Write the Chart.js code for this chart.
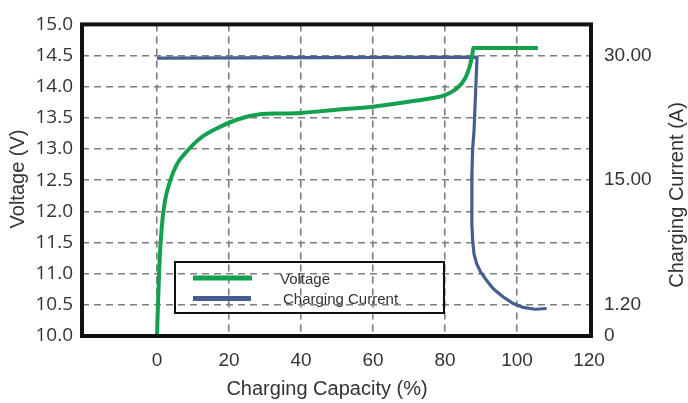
<!DOCTYPE html>
<html>
<head>
<meta charset="utf-8">
<script src="https://cdn.jsdelivr.net/npm/chart.js@4.4.1/dist/chart.umd.min.js"></script>
<style>
html, body { margin: 0; padding: 0; background: #ffffff; }
#wrap { width: 688px; height: 403px; }
</style>
</head>
<body>
<div id="wrap"><canvas id="c" width="688" height="403"></canvas></div>
<script>
// ---------- data ----------
const seriesNames = ['Voltage', 'Charging Current'];

// Voltage curve: charging capacity (%) and voltage (V)
const capacityVoltage = [0, 0.64, 1.31, 2.22, 3.61, 5.47, 8.25, 11.94, 16.58, 22.14, 28.6, 34.2, 39.7, 49.9, 60, 70, 75.83, 80, 83.25, 85.56, 86.94, 87.69, 87.86, 105.8];
const voltageValues   = [10.0, 11.10, 11.74, 12.17, 12.48, 12.75, 12.96, 13.17, 13.33, 13.47, 13.56, 13.57, 13.58, 13.63, 13.68, 13.76, 13.81, 13.865, 13.97, 14.13, 14.34, 14.55, 14.62, 14.62];

// Charging current curve: charging capacity (%) and current (A)
const capacityCurrent = [0, 88.9, 88.06, 87.69, 87.5, 87.42, 87.5, 87.69, 88.06, 88.81, 89.92, 91.58, 93.42, 96.19, 98.97, 101.75, 105.0, 108.25];
const currentValues   = [29.7, 29.8, 20.85, 18.86, 16.07, 13.05, 10.14, 8.30, 6.84, 5.74, 4.82, 3.90, 2.99, 2.07, 1.34, 1.10, 1.03, 1.06];

// Axis ticks
const xTickValues = [0, 20, 40, 60, 80, 100, 120];
const voltageTickValues = [10.0, 10.5, 11.0, 11.5, 12.0, 12.5, 13.0, 13.5, 14.0, 14.5, 15.0];
const currentTickValues = [0, 1.2, 15, 30];
const currentTickLabels = ['0', '1.20', '15.00', '30.00'];
// The right axis of the reference is not linear: each current tick sits level with this voltage
const currentTickVoltage = [10.0, 10.5, 12.5, 14.5];

const xTitle = 'Charging Capacity (%)';
const yTitle = 'Voltage (V)';
const y2Title = 'Charging Current (A)';

// ---------- styles ----------
const GREEN = '#14a04f';
const BLUE = '#455d8f';
const GRID = '#7d7d7d';
const TEXT = '#333333';
const SANS = '"Liberation Sans", Arial, sans-serif';
const VMIN = 10, VMAX = 15;

// Piecewise scale for the current axis
class CurrentScale extends Chart.LinearScale {
  _toVolt(a) {
    const ks = currentTickValues, vs = currentTickVoltage;
    let i = 1;
    while (i < ks.length - 1 && a > ks[i]) i++;
    return vs[i - 1] + (a - ks[i - 1]) * (vs[i] - vs[i - 1]) / (ks[i] - ks[i - 1]);
  }
  _fromVolt(v) {
    const ks = currentTickValues, vs = currentTickVoltage;
    let i = 1;
    while (i < vs.length - 1 && v > vs[i]) i++;
    return ks[i - 1] + (v - vs[i - 1]) * (ks[i] - ks[i - 1]) / (vs[i] - vs[i - 1]);
  }
  getPixelForValue(a) {
    if (a === null || a === undefined || isNaN(a)) return NaN;
    return this.getPixelForDecimal((this._toVolt(a) - VMIN) / (VMAX - VMIN));
  }
  getValueForPixel(p) {
    const d = this.getDecimalForPixel(p);
    return this._fromVolt(VMIN + d * (VMAX - VMIN));
  }
  buildTicks() {
    this.start = this.min; this.end = this.max;
    return currentTickValues.map(v => ({ value: v }));
  }
}
CurrentScale.id = 'currentScale';
CurrentScale.defaults = Chart.LinearScale.defaults;
Chart.register(CurrentScale);

const decorPlugin = {
  id: 'decor',
  afterDraw(chart) {
    const ctx = chart.ctx;
    const a = chart.chartArea;
    ctx.save();
    // frame
    ctx.strokeStyle = '#111111';
    ctx.lineWidth = 4;
    ctx.strokeRect(a.left, a.top, a.right - a.left, a.bottom - a.top);

    // titles
    ctx.fillStyle = TEXT;
    ctx.font = '20px ' + SANS;
    ctx.textAlign = 'center';
    ctx.textBaseline = 'middle';
    ctx.fillText(xTitle, 327, 389);
    ctx.save();
    ctx.translate(18, 179);
    ctx.rotate(-Math.PI / 2);
    ctx.fillText(yTitle, 0, 0);
    ctx.restore();
    ctx.save();
    ctx.translate(677, 195);
    ctx.rotate(-Math.PI / 2);
    ctx.fillText(y2Title, 0, 0);
    ctx.restore();

    // legend
    const ds = chart.data.datasets;
    ctx.strokeStyle = '#111111';
    ctx.lineWidth = 2;
    ctx.strokeRect(175, 262, 269, 51);
    ctx.lineWidth = 5;
    ctx.lineCap = 'butt';
    ctx.strokeStyle = ds[0].borderColor;
    ctx.beginPath(); ctx.moveTo(193, 278); ctx.lineTo(252, 278); ctx.stroke();
    ctx.strokeStyle = ds[1].borderColor;
    ctx.beginPath(); ctx.moveTo(193, 298.5); ctx.lineTo(251, 298.5); ctx.stroke();
    ctx.font = '15px ' + SANS;
    ctx.textAlign = 'left';
    ctx.textBaseline = 'alphabetic';
    ctx.fillStyle = TEXT;
    ctx.fillText(ds[0].label, 280, 283.5);
    ctx.fillText(ds[1].label, 283, 303.5);
    ctx.restore();
  }
};

new Chart(document.getElementById('c'), {
  type: 'line',
  data: {
    datasets: [
      {
        label: seriesNames[0],
        data: capacityVoltage.map((x, i) => ({ x: x, y: voltageValues[i] })),
        yAxisID: 'y',
        borderColor: GREEN,
        borderWidth: 4,
        pointRadius: 0,
        cubicInterpolationMode: 'monotone',
        fill: false
      },
      {
        label: seriesNames[1],
        data: capacityCurrent.map((x, i) => ({ x: x, y: currentValues[i] })),
        yAxisID: 'y2',
        borderColor: BLUE,
        borderWidth: 3.2,
        pointRadius: 0,
        tension: 0,
        borderJoinStyle: 'round',
        fill: false
      }
    ]
  },
  options: {
    responsive: false,
    animation: false,
    devicePixelRatio: 1,
    layout: { padding: { top: 22, left: 0, right: 0, bottom: 0 } },
    plugins: { legend: { display: false }, tooltip: { enabled: false } },
    scales: {
      x: {
        type: 'linear',
        position: 'bottom',
        min: -20.83,
        max: 120.56,
        afterBuildTicks: s => { s.ticks = xTickValues.map(v => ({ value: v })); },
        afterFit: s => { s.height = 67; },
        ticks: {
          autoSkip: false, maxRotation: 0, padding: 13,
          color: TEXT, font: { family: SANS, size: 19 },
          callback: v => String(v)
        },
        grid: {
          drawTicks: false, lineWidth: 1.6,
          color: c => (c.tick && c.tick.value === 120) ? 'rgba(0,0,0,0)' : GRID
        },
        border: { display: false, dash: [7, 5] }
      },
      y: {
        type: 'linear',
        position: 'left',
        min: VMIN,
        max: VMAX,
        afterBuildTicks: s => { s.ticks = voltageTickValues.map(v => ({ value: v })); },
        afterFit: s => { s.width = 82; },
        ticks: {
          autoSkip: false, padding: 9,
          color: TEXT, font: { family: '"Open Sans", sans-serif', size: 19 },
          callback: v => Number(v).toFixed(1)
        },
        grid: { drawTicks: false, lineWidth: 1.6, color: GRID },
        border: { display: false, dash: [7, 5] }
      },
      y2: {
        type: 'currentScale',
        position: 'right',
        min: 0,
        max: 33.75,
        afterFit: s => { s.width = 97; },
        ticks: {
          autoSkip: false, padding: 13,
          color: TEXT, font: { family: SANS, size: 19 },
          callback: v => currentTickLabels[currentTickValues.indexOf(v)]
        },
        grid: { drawOnChartArea: false, drawTicks: false },
        border: { display: false }
      }
    }
  },
  plugins: [decorPlugin]
});
</script>
</body>
</html>
